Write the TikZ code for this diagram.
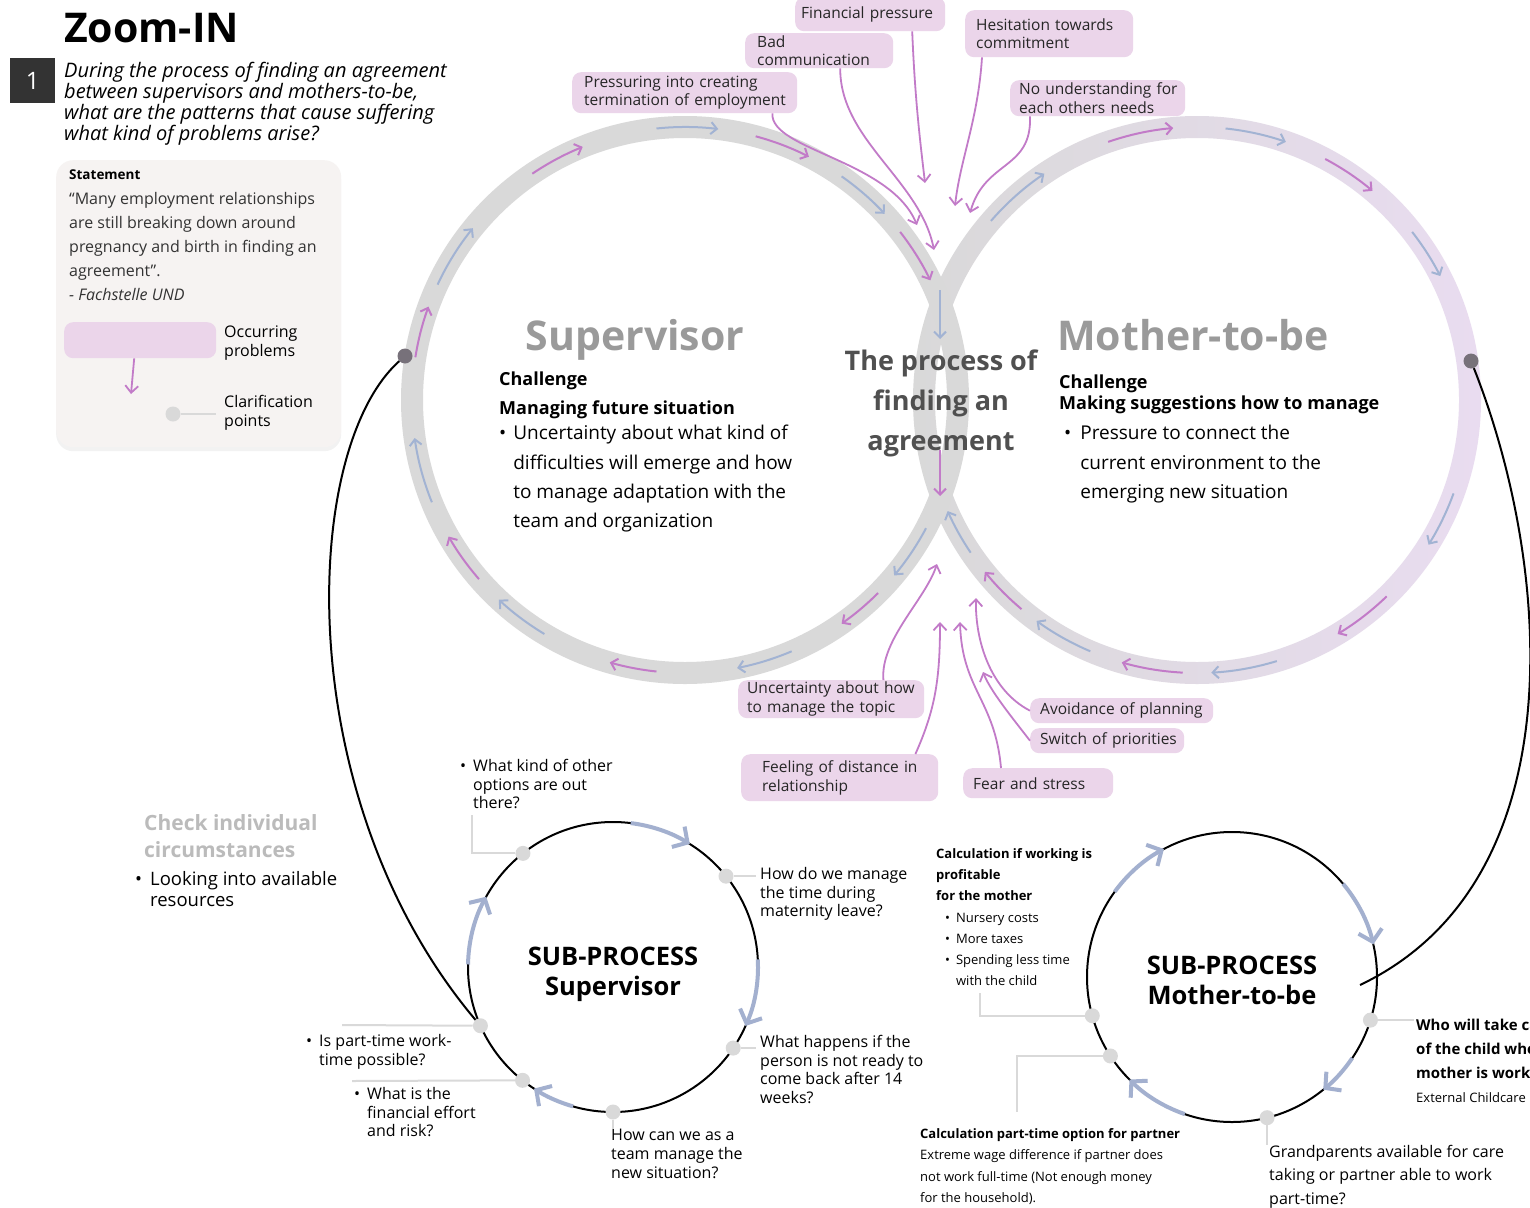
\documentclass[tikz,border=0pt]{standalone}
\usepackage{fontspec}
\setmainfont{Open Sans}
\usetikzlibrary{arrows.meta,calc,shadows}

\definecolor{ringgrau}{HTML}{D9D9D9}
\definecolor{ringlila}{HTML}{E9DCF0}
\definecolor{pfeillila}{HTML}{C27BC8}
\definecolor{pfeilblau}{HTML}{A2B3D3}
\definecolor{boxlila}{HTML}{EBD5EA}
\definecolor{kastengrau}{HTML}{F6F3F2}
\definecolor{punktgrau}{HTML}{D9D9D9}
\definecolor{punktdunkel}{HTML}{77717A}
\definecolor{titelgrau}{HTML}{9A9A9A}
\definecolor{prozessgrau}{HTML}{505050}
\definecolor{hinweisgrau}{HTML}{BBBBBB}
\definecolor{subblau}{HTML}{A3B0CF}
\definecolor{nrgrau}{HTML}{333333}

\newcommand{\schrift}[2]{\fontsize{#1}{#2}\selectfont}

\begin{document}
\begin{tikzpicture}[x=1pt, y=-1pt,
    ring/.style={draw=ringgrau, line width=22pt},
    ringpfeil/.style={line width=2pt, -{Straight Barb[length=6pt, width=12pt]}},
    problem/.style={fill=boxlila, rounded corners=9pt, inner ysep=2pt, align=left,
        anchor=north west, font=\schrift{15.5}{18.5}, text=black!85},
    problempfeil/.style={draw=pfeillila, line width=1.8pt, -{Straight Barb[length=7pt, width=13pt]}},
    frage/.style={align=left, anchor=north west, inner sep=0pt, font=\schrift{16}{18.7}},
    klaerpunkt/.style={circle, fill=punktgrau, minimum size=15pt, inner sep=0pt},
    klaerlinie/.style={draw=punktgrau, line width=2pt},
    subkreis/.style={draw=black, line width=2pt},
    subpfeil/.style={draw=subblau, line width=4pt, -{Straight Barb[length=11pt, width=24pt]}},
    verbinder/.style={draw=black, line width=2pt},
]
    % Rahmen des Bildes
    \useasboundingbox (0,0) rectangle (1530,1207);
    \fill[white] (0,0) rectangle (1530,1207);

    % Titel und Leitfrage
    \node[anchor=west, inner sep=0pt, font=\schrift{41}{46}\bfseries] (titel) at (64,28) {Zoom-IN};
    \node[fill=nrgrau, text=white, minimum size=45pt, inner sep=0pt, anchor=north west,
        font=\schrift{24}{26}] (nr) at (10,58) {1};
    \node[anchor=north west, inner sep=0pt, align=left, font=\schrift{20}{21}\itshape] (leitfrage) at (64,62)
        {During the process of finding an agreement\\between supervisors and mothers-to-be,\\what are the patterns that cause suffering\\what kind of problems arise?};

    % Kasten mit Statement und Legende
    \node[fill=kastengrau, rounded corners=17pt, minimum width=285pt, minimum height=287pt, anchor=north west,
        drop shadow={shadow xshift=0pt, shadow yshift=-4pt, opacity=0.10}] (statement) at (56,160) {};
    \node[anchor=west, inner sep=0pt, font=\schrift{13.5}{16}\bfseries] (stTitel) at (69,175) {Statement};
    \node[anchor=north west, inner sep=0pt, align=left, font=\schrift{16}{24}, text=black!80] (stText) at (69,192)
        {“Many employment relationships\\are still breaking down around\\pregnancy and birth in finding an\\agreement”.\\\textit{- Fachstelle UND}};
    \node[fill=boxlila, rounded corners=9pt, minimum width=152pt, minimum height=36pt, anchor=north west] (legBox) at (64,322) {};
    \node[frage] (legProblem) at (224,326) {Occurring\\problems};
    \node[frage] (legPunkt) at (224,395) {Clarification\\points};
    \coordinate (legZiel) at (131,394);
    \draw[problempfeil] ([xshift=-6pt]legBox.south) -- (legZiel);
    \node[klaerpunkt] (legKp) at (173,414) {};
    \draw[klaerlinie] (legKp) -- ([xshift=-8pt]legPunkt.west |- legKp);

    % Die beiden grossen Ringe
    \coordinate (S) at (685,400);
    \coordinate (M) at (1197,400);
    \shade[left color=ringgrau, right color=ringlila, even odd rule] (M) circle[radius=284] (M) circle[radius=262];
    \draw[ring] (S) circle[radius=273];

    % Pfeile auf dem Ring Supervisor (Winkel im Uhrzeigersinn)
    \foreach \a/\b/\f in {189/200/pfeillila, 205/219/pfeilblau, 236/248/pfeillila, 264/277/pfeilblau,
        285/297/pfeillila, 305/317/pfeilblau, 322/334/pfeillila, 28/40/pfeilblau, 45/55/pfeillila,
        67/79/pfeilblau, 96/106/pfeillila, 121/133/pfeilblau, 139/150/pfeillila, 158/172/pfeilblau}
        \draw[ringpfeil, draw=\f] ($(S)+(\a:273)$) arc[start angle=\a, end angle=\b, radius=273];

    % Pfeile auf dem Ring Mother-to-be
    \foreach \a/\b/\f in {221/236/pfeilblau, 251/265/pfeillila, 276/289/pfeilblau, 298/310/pfeillila,
        322/333/pfeilblau, 20/32/pfeilblau, 46/59/pfeillila, 73/87/pfeilblau, 93/106/pfeillila,
        113/126/pfeilblau, 130/141/pfeillila, 146/156/pfeilblau}
        \draw[ringpfeil, draw=\f] ($(M)+(\a:273)$) arc[start angle=\a, end angle=\b, radius=273];

    % Pfeile durch die Mitte
    \draw[ringpfeil, draw=pfeilblau] (940,290) -- (940,339);
    \draw[ringpfeil, draw=pfeillila] (940,450) -- (940,496);

    % Texte in den Ringen
    \node[anchor=base, inner sep=0pt, text=titelgrau, font=\schrift{41}{46}\bfseries] (supTitel) at (635,350) {Supervisor};
    \node[anchor=base, inner sep=0pt, text=titelgrau, font=\schrift{41}{46}\bfseries] (motTitel) at (1193,350) {Mother-to-be};
    \node[align=center, text=prozessgrau, font=\schrift{27}{40}\bfseries] (prozess) at (941,403)
        {The process of\\finding an\\agreement};
    \node[anchor=north west, inner sep=0pt, align=left, font=\schrift{18}{29}\bfseries] (supChall) at (499,372)
        {Challenge\\Managing future situation};
    \node[anchor=north west, inner sep=0pt, font=\schrift{19}{29.3}] (supListe) at (499,419)
        {\begin{tabular}{@{}l@{\hspace{7pt}}l@{}}
        \textbullet & Uncertainty about what kind of\\
         & difficulties will emerge and how\\
         & to manage adaptation with the\\
         & team and organization
        \end{tabular}};
    \node[anchor=north west, inner sep=0pt, align=left, font=\schrift{18}{21}\bfseries] (motChall) at (1059,375)
        {Challenge\\Making suggestions how to manage};
    \node[anchor=north west, inner sep=0pt, font=\schrift{19}{29.3}] (motListe) at (1064,419)
        {\begin{tabular}{@{}l@{\hspace{9pt}}l@{}}
        \textbullet & Pressure to connect the\\
         & current environment to the\\
         & emerging new situation
        \end{tabular}};

    % Verbindungspunkte an den Ringen
    \node[circle, fill=punktdunkel, minimum size=15pt, inner sep=0pt] (dotS) at (405,356) {};
    \node[circle, fill=punktdunkel, minimum size=15pt, inner sep=0pt] (dotM) at (1471,361) {};

    % Probleme oben
    \node[problem, text width=138pt, inner xsep=6pt, minimum height=34pt] (fin) at (795,-3) {\mbox{Financial pressure}};
    \node[problem, text width=124pt, inner xsep=12pt, minimum height=35pt] (bad) at (745,33) {Bad\\\mbox{communication}};
    \node[problem, text width=201pt, inner xsep=12pt, minimum height=41pt] (press) at (572,72)
        {\mbox{Pressuring into creating}\\\mbox{termination of employment}};
    \node[problem, text width=146pt, inner xsep=11pt, minimum height=47pt] (hes) at (965,10)
        {\mbox{Hesitation towards}\\commitment};
    \node[problem, text width=157pt, inner xsep=9pt, minimum height=36pt] (nou) at (1010,80)
        {\mbox{No understanding for}\\\mbox{each others needs}};

    \coordinate (zielFin) at (925,183);
    \coordinate (zielBad) at (934,250);
    \coordinate (zielPress) at (917,225);
    \coordinate (zielHes) at (955,206);
    \coordinate (zielNou) at (970,213);
    \draw[problempfeil] ([xshift=42pt]fin.south) .. controls (915,100) and (920,140) .. (zielFin);
    \draw[problempfeil] ([xshift=21pt]bad.south) .. controls (840,140) and (920,180) .. (zielBad);
    \draw[problempfeil] ([xshift=-25pt]press.south east) .. controls (770,150) and (890,160) .. (zielPress);
    \draw[problempfeil] ([xshift=17pt]hes.south west) .. controls (978,120) and (960,160) .. (zielHes);
    \draw[problempfeil] ([xshift=20pt]nou.south west) .. controls (1032,170) and (985,160) .. (zielNou);

    % Probleme unten
    \node[problem, text width=168pt, inner xsep=9pt, minimum height=38pt] (unc) at (738,680)
        {\mbox{Uncertainty about how}\\\mbox{to manage the topic}};
    \node[problem, text width=155pt, inner xsep=21pt, minimum height=47pt] (feel) at (741,754)
        {\mbox{Feeling of distance in}\\relationship};
    \node[problem, text width=130pt, inner xsep=10pt, minimum height=30pt] (fear) at (963,768) {\mbox{Fear and stress}};
    \node[problem, text width=163pt, inner xsep=10pt, minimum height=25pt] (avoid) at (1030,698) {\mbox{Avoidance of planning}};
    \node[problem, text width=134pt, inner xsep=10pt, minimum height=25pt] (switch) at (1030,728) {\mbox{Switch of priorities}};

    \coordinate (zielUnc) at (937,564);
    \coordinate (zielFeel) at (940,622);
    \coordinate (zielFear) at (960,622);
    \coordinate (zielAvoid) at (976,598);
    \coordinate (zielSwitch) at (983,672);
    \draw[problempfeil] ([xshift=-41pt]unc.north east) .. controls (880,640) and (925,600) .. (zielUnc);
    \draw[problempfeil] ([xshift=-23pt]feel.north east) .. controls (935,710) and (940,680) .. (zielFeel);
    \draw[problempfeil] ([xshift=38pt]fear.north west) .. controls (995,700) and (962,690) .. (zielFear);
    \draw[problempfeil] (avoid.west) .. controls (990,690) and (975,640) .. (zielAvoid);
    \draw[problempfeil] (switch.west) .. controls (1010,715) and (990,690) .. (zielSwitch);

    % Individuelle Umstaende
    \node[anchor=north west, inner sep=0pt, align=left, text=hinweisgrau, font=\schrift{21}{27}\bfseries] (check) at (144,814)
        {Check individual\\circumstances};
    \node[anchor=north west, inner sep=0pt, font=\schrift{18.5}{21}] (check2) at (135,871)
        {\begin{tabular}{@{}l@{\hspace{8pt}}l@{}}
        \textbullet & Looking into available\\
         & resources
        \end{tabular}};

    % Sub-Prozess Supervisor
    \coordinate (SP) at (613,967);
    \draw[subkreis] (SP) circle[radius=145];
    \foreach \a/\b in {277/302, -3/24, 106/123, 181/209}
        \draw[subpfeil] ($(SP)+(\a:145)$) arc[start angle=\a, end angle=\b, radius=145];
    \node[align=center, font=\schrift{25.5}{30}\bfseries] (spText) at (613,974) {SUB-PROCESS\\Supervisor};

    \node[frage] (fragA) at (460,758)
        {\begin{tabular}{@{}l@{\hspace{7pt}}l@{}}
        \textbullet & What kind of other\\
         & options are out\\
         & there?
        \end{tabular}};
    \node[frage] (fragB) at (760,867) {How do we manage\\the time during\\maternity leave?};
    \node[frage] (fragC) at (760,1035) {What happens if the\\person is not ready to\\come back after 14\\weeks?};
    \node[frage] (fragD) at (611,1129) {How can we as a\\team manage the\\new situation?};
    \node[frage] (fragF) at (306,1033)
        {\begin{tabular}{@{}l@{\hspace{7pt}}l@{}}
        \textbullet & Is part-time work-\\
         & time possible?
        \end{tabular}};
    \node[frage] (fragE) at (354,1086)
        {\begin{tabular}{@{}l@{\hspace{7pt}}l@{}}
        \textbullet & What is the\\
         & financial effort\\
         & and risk?
        \end{tabular}};

    \foreach \w/\n in {231.6/kpA, 321.2/kpB, 34/kpC, 90/kpD, 128.6/kpE, 156.1/kpF}
        \node[klaerpunkt] (\n) at ($(SP)+(\w:145)$) {};
    \coordinate (endeF) at (342,1025);
    \coordinate (endeE) at (352,1081);
    \draw[klaerlinie] (kpA) -| ([xshift=12pt]fragA.south west);
    \draw[klaerlinie] (kpB) -- ($(fragB.west |- kpB)+(-4,0)$);
    \draw[klaerlinie] (kpC) -- ($(fragC.west |- kpC)+(-4,0)$);
    \draw[klaerlinie] (kpD) -- (kpD |- fragD.north);
    \draw[klaerlinie] (kpF) -- (endeF);
    \draw[klaerlinie] (kpE) -- (endeE);

    % Sub-Prozess Mother-to-be
    \coordinate (MP) at (1232,977);
    \draw[subkreis] (MP) circle[radius=145];
    \foreach \a/\b in {216/242, 320/347, 34/51, 109/135}
        \draw[subpfeil] ($(MP)+(\a:145)$) arc[start angle=\a, end angle=\b, radius=145];
    \node[align=center, font=\schrift{25.5}{30}\bfseries] (mpText) at (1232,980) {SUB-PROCESS\\Mother-to-be};

    \node[frage, font=\schrift{13}{21}\bfseries] (rechA) at (936,848) {Calculation if working is\\profitable\\for the mother};
    \node[frage, font=\schrift{13}{21}] (rechListe) at (945,908)
        {\begin{tabular}{@{}l@{\hspace{6pt}}l@{}}
        \textbullet & Nursery costs\\
        \textbullet & More taxes\\
        \textbullet & Spending less time\\
         & with the child
        \end{tabular}};
    \node[frage, font=\schrift{13}{21.5}] (rechB) at (920,1128)
        {\textbf{Calculation part-time option for partner}\\Extreme wage difference if partner does\\not work full-time (Not enough money\\for the household).};
    \node[frage, font=\schrift{16}{23.5}] (grosseltern) at (1269,1145)
        {Grandparents available for care\\taking or partner able to work\\part-time?};
    \node[frage, font=\schrift{15}{24}\bfseries] (betreuung) at (1416,1019)
        {Who will take care\\of the child when the\\mother is working?\\{\mdseries\schrift{13}{23}External Childcare}};

    \foreach \w/\n in {164.5/kpG, 147/kpH, 17.3/kpI, 76/kpJ}
        \node[klaerpunkt] (\n) at ($(MP)+(\w:145)$) {};
    \coordinate (endeG) at (980,993);
    \coordinate (endeH) at (1017,1112);
    \draw[klaerlinie] (kpG) -| (endeG);
    \draw[klaerlinie] (kpH) -| (endeH);
    \draw[klaerlinie] (kpI) -- ($(betreuung.west |- kpI)+(-2,0)$);
    \draw[klaerlinie] (kpJ) -- (kpJ |- grosseltern.north);

    % Verbindungen zu den Sub-Prozessen
    \coordinate (endeM) at (1360,985);
    \draw[verbinder] (dotS) .. controls (300,450) and (290,800) .. (kpF);
    \draw[verbinder] (dotM) .. controls (1550,560) and (1580,880) .. (endeM);
\end{tikzpicture}
\end{document}
